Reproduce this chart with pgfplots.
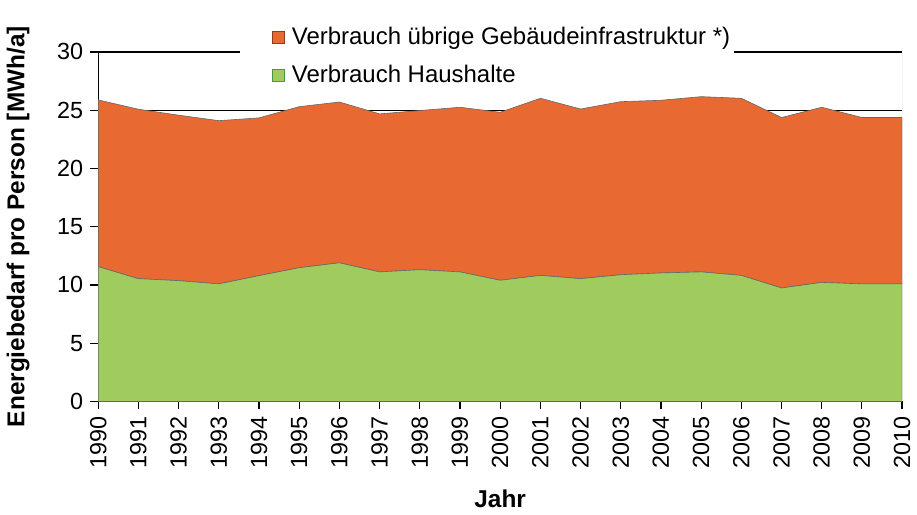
\documentclass[border=0pt]{standalone}
\usepackage{pgfplots}
\pgfplotsset{compat=1.18}
\usepackage{fontspec}
\setmainfont{Liberation Sans}
\definecolor{orangeA}{HTML}{E96933}
\definecolor{greenA}{HTML}{A0CB5E}
\begin{document}
\begin{tikzpicture}
\begin{axis}[
  scale only axis,
  width=402.5pt, height=175pt,
  xmin=1990, xmax=2010, ymin=0, ymax=30,
  stack plots=y,
  axis x line*=bottom, axis y line*=left,
  axis line style={-, black, line width=0.6pt},
  xtick={1990,...,2010}, ytick={0,5,...,30},
  xticklabel style={rotate=90, anchor=east, /pgf/number format/1000 sep={}},
  x tick label style={/pgf/number format/1000 sep={}},
  tick label style={font=\fontsize{11.7}{13}\selectfont},
  /pgf/number format/assume math mode=true,
  tick align=outside, major tick length=4pt,
  tick style={black, line width=0.6pt},
  ymajorgrids, grid style={black, line width=0.6pt},
  xlabel={\textbf{Jahr}}, ylabel={\textbf{Energiebedarf pro Person [MWh/a]}},
  label style={font=\fontsize{12.2}{14}\selectfont},
  ylabel style={yshift=7pt},
  xlabel style={yshift=-4pt},
  reverse legend,
  legend style={at={(0.216,0.987)}, anchor=west, fill=none, draw=none,
    font=\fontsize{12}{14}\selectfont, row sep=4.5pt, inner sep=0pt},
  legend cell align=left,
]
\addplot[fill=greenA, draw=gray!80!black, line width=0.3pt,
  legend image code/.code={\draw[fill=greenA, draw=green!40!black!70] (0pt,-3pt) rectangle (6pt,3pt); \path (7.5pt,0pt);}]
  coordinates {
  (1990,11.57) (1991,10.54) (1992,10.37) (1993,10.09) (1994,10.80)
  (1995,11.48) (1996,11.90) (1997,11.12) (1998,11.31) (1999,11.12)
  (2000,10.40) (2001,10.82) (2002,10.54) (2003,10.88) (2004,11.03)
  (2005,11.12) (2006,10.82) (2007,9.74) (2008,10.22) (2009,10.09)
  (2010,10.09)
} \closedcycle;
\addlegendentry{Verbrauch Haushalte}
\addplot[fill=orangeA, draw=gray!80!black, line width=0.3pt,
  legend image code/.code={\draw[fill=orangeA, draw=orangeA!60!black] (0pt,-3pt) rectangle (6pt,3pt); \path (7.5pt,0pt);}]
  coordinates {
  (1990,14.31) (1991,14.54) (1992,14.20) (1993,14.01) (1994,13.54)
  (1995,13.82) (1996,13.80) (1997,13.56) (1998,13.66) (1999,14.13)
  (2000,14.42) (2001,15.20) (2002,14.56) (2003,14.85) (2004,14.82)
  (2005,15.04) (2006,15.20) (2007,14.63) (2008,15.03) (2009,14.28)
  (2010,14.28)
} \closedcycle;
\addlegendentry{Verbrauch übrige Gebäudeinfrastruktur *)}
\fill[white] (rel axis cs:0.176,0.97) rectangle (rel axis cs:0.791,1.03);
\draw[gray!60, line width=0.5pt] (rel axis cs:1,0) -- (rel axis cs:1,1);
\end{axis}
\path ([yshift=26pt]current axis.north west);
\end{tikzpicture}
\end{document}
